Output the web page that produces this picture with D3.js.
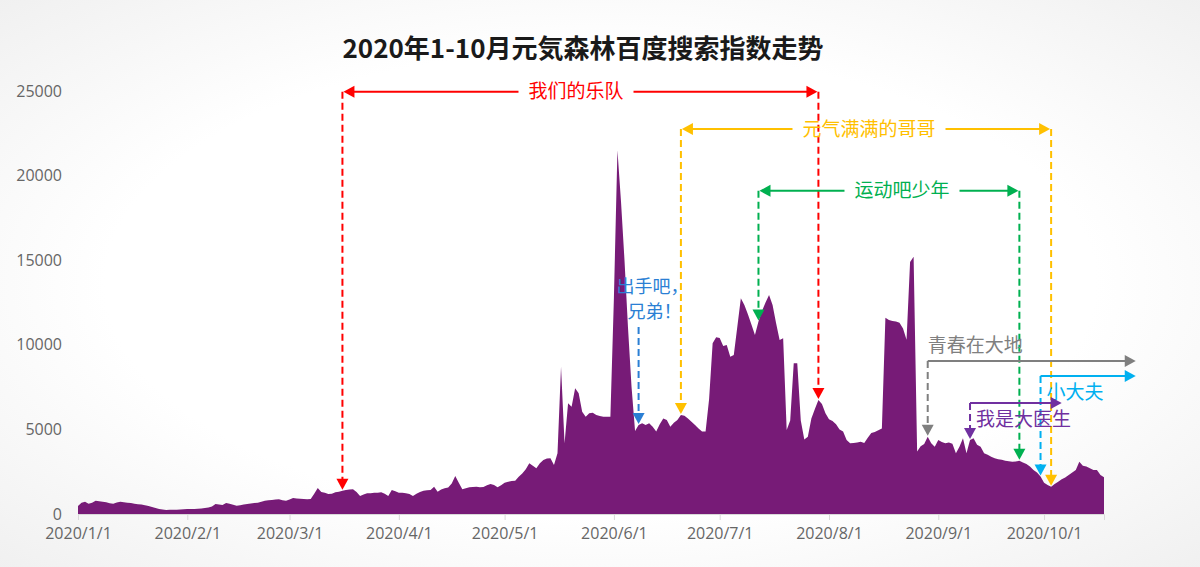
<!DOCTYPE html>
<html>
<head>
<meta charset="utf-8">
<script src="https://cdn.jsdelivr.net/npm/d3@7"></script>
<style>
  html, body { margin: 0; padding: 0; }
  body { width: 1200px; height: 567px; overflow: hidden; }
  svg { display: block; }
</style>
</head>
<body>
<svg id="chart" width="1200" height="567"></svg>
<script>
// daily Baidu search index, 2020/1/1 .. 2020/10/18
var startDate = '2020-01-01';
var searchIndex = [
  // Jan
  480, 670, 720, 600, 660, 790, 760, 720, 700, 640, 600, 680, 720, 690, 660, 650,
  610, 580, 560, 520, 470, 420, 350, 300, 260, 240, 250, 250, 250, 260, 280,
  // Feb
  290, 300, 300, 310, 330, 360, 390, 450, 590, 560, 530, 650, 600, 540, 490, 520,
  560, 590, 620, 650, 670, 720, 790, 810, 830, 850, 870, 820, 780,
  // Mar
  860, 940, 920, 900, 880, 870, 880, 1200, 1530, 1300, 1250, 1180, 1200, 1280, 1320, 1380,
  1420, 1450, 1460, 1300, 1060, 1150, 1220, 1230, 1250, 1260, 1280, 1200, 1060, 1420, 1350,
  // Apr
  1260, 1260, 1220, 1180, 1060, 1200, 1300, 1380, 1400, 1420, 1610, 1320, 1450, 1520, 1560,
  1800, 2250, 1850, 1460, 1520, 1580, 1600, 1610, 1580, 1600, 1700, 1770, 1710, 1580, 1700,
  // May
  1850, 1900, 1950, 1970, 2200, 2400, 2650, 3000, 2850, 2700, 3000, 3190, 3280, 3290, 2900, 3590,
  8710, 4180, 6540, 6340, 7430, 7130, 6050, 5750, 5950, 5990, 5850, 5790, 5750, 5750, 5750,
  // Jun
  12800, 21500, 18500, 15000, 11000, 7500, 4900, 5260, 5360, 5260, 5360, 5160, 4870, 5300, 5650,
  5560, 5160, 5400, 5560, 5850, 5800, 5650, 5450, 5260, 5050, 4870, 4870, 6800, 10090, 10440,
  // Jul
  10400, 9930, 9990, 9300, 9400, 11070, 12750, 12350, 11800, 11200, 10580, 11370, 12000, 12500, 12940, 12350,
  11270, 10280, 10380, 4960, 5520, 8910, 8910, 5520, 4410, 4570, 5650, 6200, 6740, 6500, 5950,
  // Aug
  5600, 5500, 5300, 5000, 4870, 4370, 4180, 4200, 4220, 4270, 4200, 4500, 4780, 4850, 4950, 5060,
  11600, 11470, 11400, 11370, 11300, 10970, 10300, 14900, 15200, 3700, 4000, 4140, 4570, 4180, 3980,
  // Sep
  4370, 4250, 4180, 4220, 4150, 3590, 3980, 4470, 3590, 4370, 4470, 4100, 3980, 3590, 3500,
  3390, 3300, 3230, 3200, 3150, 3120, 3090, 3100, 3150, 3050, 2950, 2800, 2600, 2450, 2210,
  // Oct
  1850, 1710, 1610, 1780, 1900, 2050, 2150, 2300, 2450, 2600, 3090, 2850, 2800, 2700, 2600, 2600,
  2300, 2170
];
var yTicks = [0, 5000, 10000, 15000, 20000, 25000];
var xTickDates = ['2020-01-01', '2020-02-01', '2020-03-01', '2020-04-01', '2020-05-01',
                  '2020-06-01', '2020-07-01', '2020-08-01', '2020-09-01', '2020-10-01'];

// shows: bracket level (index value), start/end dates
var brackets = [
  { label: '我们的乐队', color: '#ff0000', level: 24950, from: '2020-03-16', to: '2020-07-29', mid: 576 },
  { label: '元气满满的哥哥', color: '#ffc000', level: 22750, from: '2020-06-20', to: '2020-10-03', mid: 869 },
  { label: '运动吧少年', color: '#00b050', level: 19100, from: '2020-07-12', to: '2020-09-24', mid: 902 }
];
var openShows = [
  { label: '青春在大地', color: '#7f7f7f', level: 9040, from: '2020-08-29', to: '2020-10-27', textAbove: true },
  { label: '小大夫', color: '#00b0f0', level: 8160, from: '2020-09-30', to: '2020-10-27', textAbove: false },
  { label: '我是大医生', color: '#7030a0', level: 6560, from: '2020-09-10', to: '2020-10-06', textAbove: false }
];
var pointers = [
  { lines: ['出手吧，', '兄弟！'], color: '#2b7fd4', level: 11050, at: '2020-06-08' }
];

var parse = d3.timeParse('%Y-%m-%d');
var t0 = parse(startDate);
var data = searchIndex.map((v, i) => ({ date: d3.timeDay.offset(t0, i), value: v }));
var byDay = new Map(data.map(d => [+d.date, d.value]));

var svg = d3.select('#chart');
var font = '"Noto Sans CJK SC", "Noto Sans", sans-serif';

// faint background
var defs = svg.append('defs');
var grad = defs.append('radialGradient').attr('id', 'bg')
  .attr('cx', '50%').attr('cy', '50%').attr('r', '75%');
grad.append('stop').attr('offset', '55%').attr('stop-color', '#ffffff');
grad.append('stop').attr('offset', '100%').attr('stop-color', '#eeeeee');
svg.append('rect').attr('width', 1200).attr('height', 567).attr('fill', 'url(#bg)');

var x = d3.scaleTime()
  .domain([t0, data[data.length - 1].date])
  .range([78, 1104]);
var y = d3.scaleLinear().domain([0, 25000]).range([514, 91]);

// title
svg.append('text')
  .attr('x', 583).attr('y', 58)
  .attr('text-anchor', 'middle')
  .style('font-family', font).style('font-size', '26px').style('font-weight', 'bold')
  .attr('fill', '#1a1a1a')
  .text('2020年1-10月元気森林百度搜索指数走势');

// area
var area = d3.area()
  .x(d => x(d.date))
  .y0(y(0))
  .y1(d => y(d.value));
svg.append('path').datum(data)
  .attr('d', area)
  .attr('fill', '#771b77');

// x axis
var xAxis = d3.axisBottom(x)
  .tickValues(xTickDates.map(parse))
  .tickFormat(d3.timeFormat('%Y/%-m/%-d'))
  .tickSize(6).tickPadding(8);
var gx = svg.append('g').attr('transform', 'translate(0,' + y(0) + ')').call(xAxis);
gx.select('.domain').attr('stroke', '#d9d9d9');
gx.selectAll('.tick line').attr('stroke', '#d9d9d9');
gx.selectAll('text').style('font-family', '"Open Sans", sans-serif').style('font-size', '16px').attr('fill', '#666');

// y axis (labels only)
var yAxis = d3.axisLeft(y).tickValues(yTicks).tickFormat(d3.format('d')).tickSize(0).tickPadding(0);
var gy = svg.append('g').attr('transform', 'translate(62,0)').call(yAxis);
gy.select('.domain').remove();
gy.selectAll('text').style('font-family', '"Open Sans", sans-serif').style('font-size', '16px').attr('fill', '#666');

var ann = svg.append('g').style('font-family', font);

function tri(g, xt, yt, dir, color) {
  var w = 6, l = 11, pts;
  if (dir === 'down') pts = [[xt, yt], [xt - w, yt - l], [xt + w, yt - l]];
  if (dir === 'left') pts = [[xt, yt], [xt + l, yt - w], [xt + l, yt + w]];
  if (dir === 'right') pts = [[xt, yt], [xt - l, yt - w], [xt - l, yt + w]];
  g.append('path').attr('d', d3.line()(pts) + 'Z').attr('fill', color);
}

function dropLine(g, date, fromY, color) {
  var d = parse(date);
  var xx = x(d);
  var tipY = y(byDay.get(+d)) - 1;
  g.append('line')
    .attr('x1', xx).attr('x2', xx)
    .attr('y1', fromY).attr('y2', tipY - 10)
    .attr('stroke', color).attr('stroke-width', 2)
    .attr('stroke-dasharray', '7,4');
  tri(g, xx, tipY, 'down', color);
}

brackets.forEach(b => {
  var g = ann.append('g');
  var ly = y(b.level);
  var x1 = x(parse(b.from)), x2 = x(parse(b.to));
  var txt = g.append('text')
    .attr('x', b.mid).attr('y', ly).attr('dy', '0.35em')
    .attr('text-anchor', 'middle')
    .style('font-size', '19px').attr('fill', b.color)
    .text(b.label);
  var tw = txt.node().getComputedTextLength();
  g.append('line').attr('x1', x1 + 8).attr('x2', b.mid - tw / 2 - 10)
    .attr('y1', ly).attr('y2', ly).attr('stroke', b.color).attr('stroke-width', 2);
  g.append('line').attr('x1', b.mid + tw / 2 + 10).attr('x2', x2 - 8)
    .attr('y1', ly).attr('y2', ly).attr('stroke', b.color).attr('stroke-width', 2);
  tri(g, x1 + 1, ly, 'left', b.color);
  tri(g, x2 - 1, ly, 'right', b.color);
  dropLine(g, b.from, ly, b.color);
  dropLine(g, b.to, ly, b.color);
});

openShows.forEach(s => {
  var g = ann.append('g');
  var ly = y(s.level);
  var x1 = x(parse(s.from)), x2 = x(parse(s.to));
  g.append('line').attr('x1', x1).attr('x2', x2 - 8)
    .attr('y1', ly).attr('y2', ly).attr('stroke', s.color).attr('stroke-width', 2);
  tri(g, x2, ly, 'right', s.color);
  dropLine(g, s.from, ly, s.color);
  g.append('text')
    .attr('x', s.textAbove ? x1 : x1 + 6)
    .attr('y', s.textAbove ? ly - 16 : ly + 16).attr('dy', '0.35em')
    .style('font-size', '19px').attr('fill', s.color)
    .text(s.label);
});

pointers.forEach(p => {
  var g = ann.append('g');
  var ly = y(p.level);
  var xx = x(parse(p.at));
  g.selectAll('text.pl').data(p.lines).enter().append('text')
    .attr('x', (d, i) => i === 0 ? xx + 14 : xx + 16)
    .attr('y', (d, i) => ly - 40 + i * 25).attr('dy', '0.35em')
    .attr('text-anchor', 'middle')
    .style('font-size', '18px').attr('fill', p.color)
    .text(d => d);
  dropLine(g, p.at, ly, p.color);
});
</script>
</body>
</html>
